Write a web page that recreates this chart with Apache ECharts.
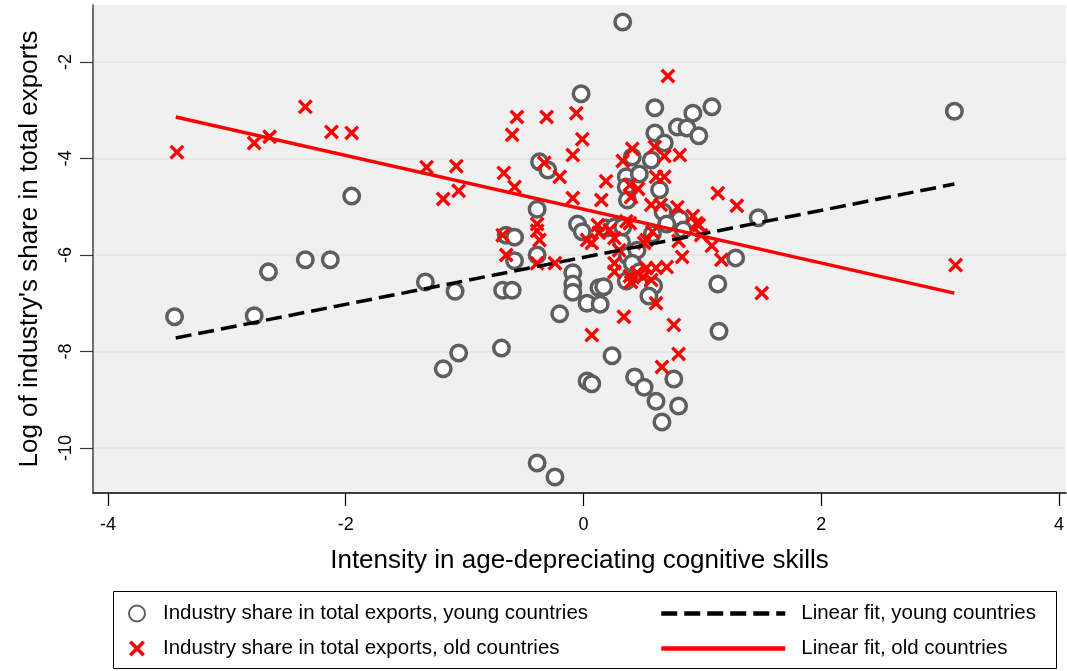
<!DOCTYPE html>
<html>
<head>
<meta charset="utf-8">
<script src="https://cdn.jsdelivr.net/npm/echarts@6/dist/echarts.min.js"></script>
<style>
html, body { margin: 0; padding: 0; background: #ffffff; }
#chart { width: 1067px; height: 671px; }
</style>
</head>
<body>
<div id="chart"></div>
<script>
// Industry export shares vs. intensity in age-depreciating cognitive skills
const youngPoints = [
  [0.33,-1.17],[3.12,-3.02],[-3.44,-7.28],[-2.77,-7.26],[-2.65,-6.35],[-2.34,-6.10],
  [-2.13,-6.10],[-1.95,-4.78],[-1.33,-6.56],[-1.08,-6.75],[-1.05,-8.03],[-1.18,-8.36],
  [-0.69,-7.93],[-0.68,-6.73],[-0.60,-6.73],[-0.65,-5.59],[-0.58,-5.63],[-0.58,-6.12],
  [-0.39,-6.00],[-0.37,-4.07],[-0.30,-4.24],[-0.39,-5.05],[-0.39,-10.31],[-0.24,-10.60],
  [-0.20,-7.22],[-0.09,-6.37],[-0.09,-6.60],[-0.09,-6.77],[0.03,-7.00],[0.14,-7.02],
  [0.13,-6.68],[0.17,-6.66],[0.24,-8.09],[0.03,-8.61],[0.07,-8.67],[-0.05,-5.36],
  [-0.01,-5.52],[0.19,-5.44],[0.26,-5.42],[-0.02,-2.66],[0.60,-2.95],[1.08,-2.93],
  [0.92,-3.06],[0.79,-3.35],[0.87,-3.37],[0.97,-3.53],[0.60,-3.47],[0.68,-3.68],
  [0.41,-3.97],[0.57,-4.03],[0.36,-4.38],[0.47,-4.32],[0.36,-4.59],[0.64,-4.65],
  [0.37,-4.86],[0.67,-5.11],[0.81,-5.25],[0.70,-5.36],[0.84,-5.48],[1.47,-5.23],
  [0.32,-5.73],[0.37,-6.02],[0.45,-5.90],[0.33,-5.42],[0.58,-5.56],[0.41,-6.17],
  [0.47,-6.35],[0.36,-6.54],[0.59,-6.64],[0.55,-6.85],[1.28,-6.06],[1.13,-6.60],
  [1.14,-7.58],[0.43,-8.53],[0.51,-8.74],[0.61,-9.03],[0.66,-9.46],[0.76,-8.57],
  [0.80,-9.13]
];
const oldPoints = [
  [-3.42,-3.87],[-2.77,-3.68],[-2.64,-3.55],[-2.34,-2.93],[-2.12,-3.45],[-1.95,-3.47],
  [-1.32,-4.18],[-1.07,-4.16],[-1.18,-4.84],[-1.05,-4.67],[-0.56,-3.14],[-0.60,-3.51],
  [-0.31,-3.14],[-0.06,-3.06],[-0.01,-3.60],[-0.09,-3.93],[-0.33,-4.09],[-0.20,-4.38],
  [-0.67,-4.30],[-0.58,-4.59],[0.19,-4.47],[0.15,-4.86],[-0.09,-4.82],[0.71,-2.29],
  [0.41,-3.80],[0.60,-3.76],[0.33,-4.05],[0.68,-3.95],[0.81,-3.93],[0.61,-4.38],
  [0.68,-4.38],[1.13,-4.72],[1.29,-4.98],[0.39,-4.55],[0.46,-4.63],[0.40,-4.80],
  [0.57,-4.96],[0.65,-4.96],[0.79,-5.01],[0.92,-5.19],[0.97,-5.38],[0.36,-5.30],
  [-0.39,-5.36],[-0.39,-5.50],[-0.37,-5.69],[-0.68,-5.59],[0.03,-5.69],[0.13,-5.54],
  [0.22,-5.48],[0.58,-5.52],[0.53,-5.69],[0.80,-5.71],[1.08,-5.81],[0.12,-5.38],
  [-0.39,-6.17],[-0.24,-6.17],[0.07,-5.75],[0.26,-5.65],[0.30,-5.90],[0.39,-5.34],
  [0.26,-6.17],[0.26,-6.35],[0.39,-6.44],[0.40,-6.56],[0.34,-7.28],[-0.65,-6.00],
  [0.07,-7.66],[0.61,-7.00],[0.76,-7.45],[0.80,-8.05],[0.66,-8.32],[0.45,-6.37],
  [0.53,-6.27],[0.61,-6.27],[0.70,-6.25],[0.83,-6.04],[1.16,-6.10],[1.50,-6.79],
  [3.13,-6.21],[0.51,-5.75],[0.95,-5.34],[0.99,-5.59],[0.50,-6.46],[0.57,-6.52]
];
// Fitted regression lines, given by their end points
const youngFit = [[-3.43,-7.72],[3.12,-4.53]];
const oldFit = [[-3.43,-3.14],[3.12,-6.79]];

const xTicks = [-4, -2, 0, 2, 4];
const yTicks = [-10, -8, -6, -4, -2];

const seriesNames = [
  'Industry share in total exports, young countries',
  'Industry share in total exports, old countries',
  'Linear fit, young countries',
  'Linear fit, old countries'
];

const crossSymbol = 'path://M0,16L16,0L50,34L84,0L100,16L66,50L100,84L84,100L50,66L16,100L0,84L34,50Z';
const FONT = '"Liberation Sans", Arial, sans-serif';

const chart = echarts.init(document.getElementById('chart'), null, { renderer: 'canvas' });

chart.setOption({
  animation: false,
  backgroundColor: '#ffffff',
  textStyle: { fontFamily: FONT, color: '#000' },
  grid: {
    left: 93, right: 0, top: 5, bottom: 178,
    show: true, backgroundColor: '#f0f0f0', borderWidth: 0
  },
  xAxis: {
    type: 'value',
    min: -4.126, max: 4.059,
    name: 'Intensity in age-depreciating cognitive skills',
    nameLocation: 'middle',
    nameGap: 55,
    nameTextStyle: { fontSize: 26, fontFamily: FONT, color: '#000' },
    axisLine: { show: true, onZero: false, lineStyle: { color: '#000', width: 1.5 } },
    axisTick: { show: true, length: 13, customValues: xTicks, lineStyle: { color: '#000', width: 1.2 } },
    axisLabel: { customValues: xTicks, fontSize: 18, margin: 23, color: '#000', fontFamily: FONT },
    splitLine: { show: false }
  },
  yAxis: {
    type: 'value',
    min: -10.933, max: -0.819,
    name: "Log of industry's share in total exports",
    nameLocation: 'middle',
    nameRotate: 90,
    nameGap: 50,
    nameTextStyle: { fontSize: 26, fontFamily: FONT, color: '#000' },
    axisLine: { show: true, onZero: false, lineStyle: { color: '#444', width: 1.5 } },
    axisTick: { show: true, length: 13, customValues: yTicks, lineStyle: { color: '#333', width: 1.2 } },
    axisLabel: { customValues: yTicks, rotate: 90, fontSize: 18, margin: 18, color: '#000', fontFamily: FONT },
    splitLine: { show: true, lineStyle: { color: '#e6e6e6', width: 2 } }
  },
  legend: [
    {
      data: [seriesNames[0], seriesNames[1]],
      orient: 'vertical',
      left: 123, top: 598,
      itemWidth: 20, itemHeight: 16, itemGap: 14,
      textStyle: { fontSize: 20.5, fontFamily: FONT, color: '#000', padding: [0, 0, 0, 11] }
    },
    {
      data: [seriesNames[2], seriesNames[3]],
      orient: 'vertical',
      left: 654, top: 598,
      itemWidth: 124, itemHeight: 16, itemGap: 14,
      itemStyle: { opacity: 0 },
      lineStyle: { width: 4.5 },
      textStyle: { fontSize: 20.5, fontFamily: FONT, color: '#000', padding: [0, 0, 0, 11] }
    }
  ],
  graphic: [
    {
      type: 'rect',
      shape: { x: 113.5, y: 591.5, width: 943, height: 77 },
      style: { fill: 'none', stroke: '#000', lineWidth: 1 },
      silent: true
    }
  ],
  series: [
    {
      name: seriesNames[0],
      type: 'scatter',
      data: youngPoints,
      symbol: 'circle',
      symbolSize: 15.5,
      itemStyle: { color: '#ffffff', borderColor: '#5e5e5e', borderWidth: 3.5, opacity: 1 },
      z: 2
    },
    {
      name: seriesNames[1],
      type: 'scatter',
      data: oldPoints,
      symbol: crossSymbol,
      symbolSize: 15,
      itemStyle: { color: '#ff0000', opacity: 1 },
      z: 3
    },
    {
      name: seriesNames[2],
      type: 'line',
      data: youngFit,
      symbol: 'none',
      lineStyle: { color: '#000', width: 3.5, type: [16, 7] },
      itemStyle: { color: 'rgba(0,0,0,0)' },
      z: 4
    },
    {
      name: seriesNames[3],
      type: 'line',
      data: oldFit,
      symbol: 'none',
      lineStyle: { color: '#ff0000', width: 3.5, type: 'solid' },
      itemStyle: { color: 'rgba(0,0,0,0)' },
      z: 5
    }
  ]
});
</script>
</body>
</html>
